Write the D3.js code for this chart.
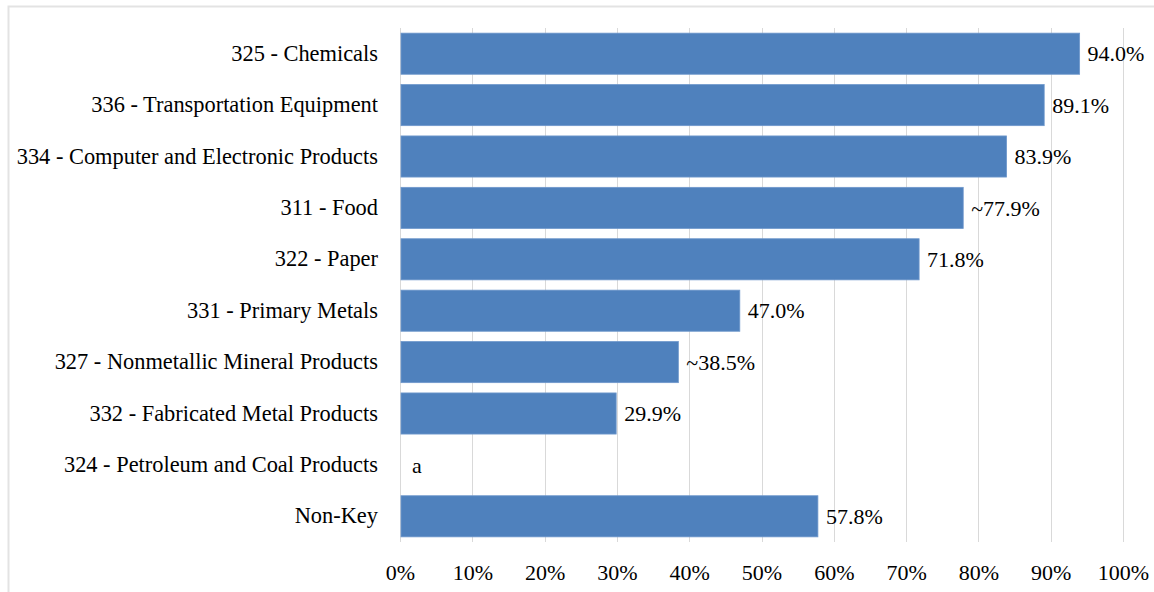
<!DOCTYPE html>
<html>
<head>
<meta charset="utf-8">
<script src="https://cdn.jsdelivr.net/npm/d3@7"></script>
<style>
	body { margin: 0; background: #fff; }
	svg text { font-family: 'Times New Roman', 'Liberation Serif', 'DejaVu Serif', serif; fill: #000; }
</style>
</head>
<body>
<svg id="chart"></svg>
<script>
const categories = ['325 - Chemicals',
					'336 - Transportation Equipment',
					'334 - Computer and Electronic Products',
					'311 - Food',
					'322 - Paper',
					'331 - Primary Metals',
					'327 - Nonmetallic Mineral Products',
					'332 - Fabricated Metal Products',
					'324 - Petroleum and Coal Products',
					'Non-Key'];

const shares = [94.0, 89.1, 83.9, 77.9, 71.8, 47.0, 38.5, 29.9, null, 57.8];

const valueLabels = ['94.0%', '89.1%', '83.9%', '~77.9%', '71.8%', '47.0%', '~38.5%', '29.9%', 'a', '57.8%'];

const tickValues = [0, 10, 20, 30, 40, 50, 60, 70, 80, 90, 100];

const data = categories.map((c, i) => ({cat: c, share: shares[i], label: valueLabels[i]}));

const FONT = "'Times New Roman', 'Liberation Serif', 'DejaVu Serif', serif";
const FONT_SIZE = '22px';

// dimensions
const W = 1154, H = 592;
const margin = {top: 28, bottom: 50, left: 400, right: 31};
const width = W - margin.left - margin.right;
const height = H - margin.top - margin.bottom;

const svg = d3.select('#chart').attr('width', W).attr('height', H);

// outer chart border
svg.append('rect')
	.attr('x', 8.5).attr('y', 6.5)
	.attr('width', W + 10).attr('height', H + 10)
	.attr('fill', 'none')
	.attr('stroke', '#e3e3e3')
	.attr('stroke-width', 2);

// scales
const scaleX = d3.scaleLinear().domain([0, 100]).range([0, width]);
const scaleY = d3.scaleBand().domain(categories).range([0, height]).paddingInner(0.2).paddingOuter(0.1);

const vis = svg.append('g').attr('transform', 'translate(' + margin.left + ',' + margin.top + ')');

// gridlines
vis.append('g')
	.selectAll('line')
	.data(tickValues)
	.enter()
	.append('line')
	.attr('x1', d => Math.round(scaleX(d)) + 0.5)
	.attr('x2', d => Math.round(scaleX(d)) + 0.5)
	.attr('y1', 0)
	.attr('y2', height)
	.attr('stroke', '#d9d9d9')
	.attr('stroke-width', 1);

// bars
vis.selectAll('.bar')
	.data(data.filter(d => d.share != null))
	.enter()
	.append('rect')
	.attr('class', 'bar')
	.attr('x', scaleX(0) + 1)
	.attr('y', d => scaleY(d.cat))
	.attr('width', d => scaleX(d.share) - 1)
	.attr('height', scaleY.bandwidth())
	.attr('fill', '#4f81bd')
	.attr('stroke', '#6f98cc')
	.attr('stroke-width', 0.8);

// value labels (the empty Petroleum row just shows its footnote letter)
vis.selectAll('.valLabel')
	.data(data)
	.enter()
	.append('text')
	.attr('class', 'valLabel')
	.attr('x', d => scaleX(d.share || 0) + (d.share == null ? 12 : 8))
	.attr('y', d => scaleY(d.cat) + scaleY.bandwidth() / 2)
	.attr('dy', '0.35em')
	.attr('font-family', FONT)
	.style('font-size', FONT_SIZE)
	.text(d => d.label);

// category axis
const yAxis = vis.append('g').call(d3.axisLeft(scaleY).tickSize(0).tickPadding(22));
yAxis.attr('font-family', FONT);
yAxis.select('.domain').remove();
yAxis.selectAll('text')
	.style('font-size', '22.4px');

// value axis
const xAxis = vis.append('g')
	.attr('transform', 'translate(0,' + height + ')')
	.call(d3.axisBottom(scaleX).tickValues(tickValues).tickSize(0).tickPadding(22).tickFormat(d => d + '%'));
xAxis.attr('font-family', FONT);
xAxis.select('.domain').remove();
xAxis.selectAll('text')
	.style('font-size', FONT_SIZE);
</script>
</body>
</html>
